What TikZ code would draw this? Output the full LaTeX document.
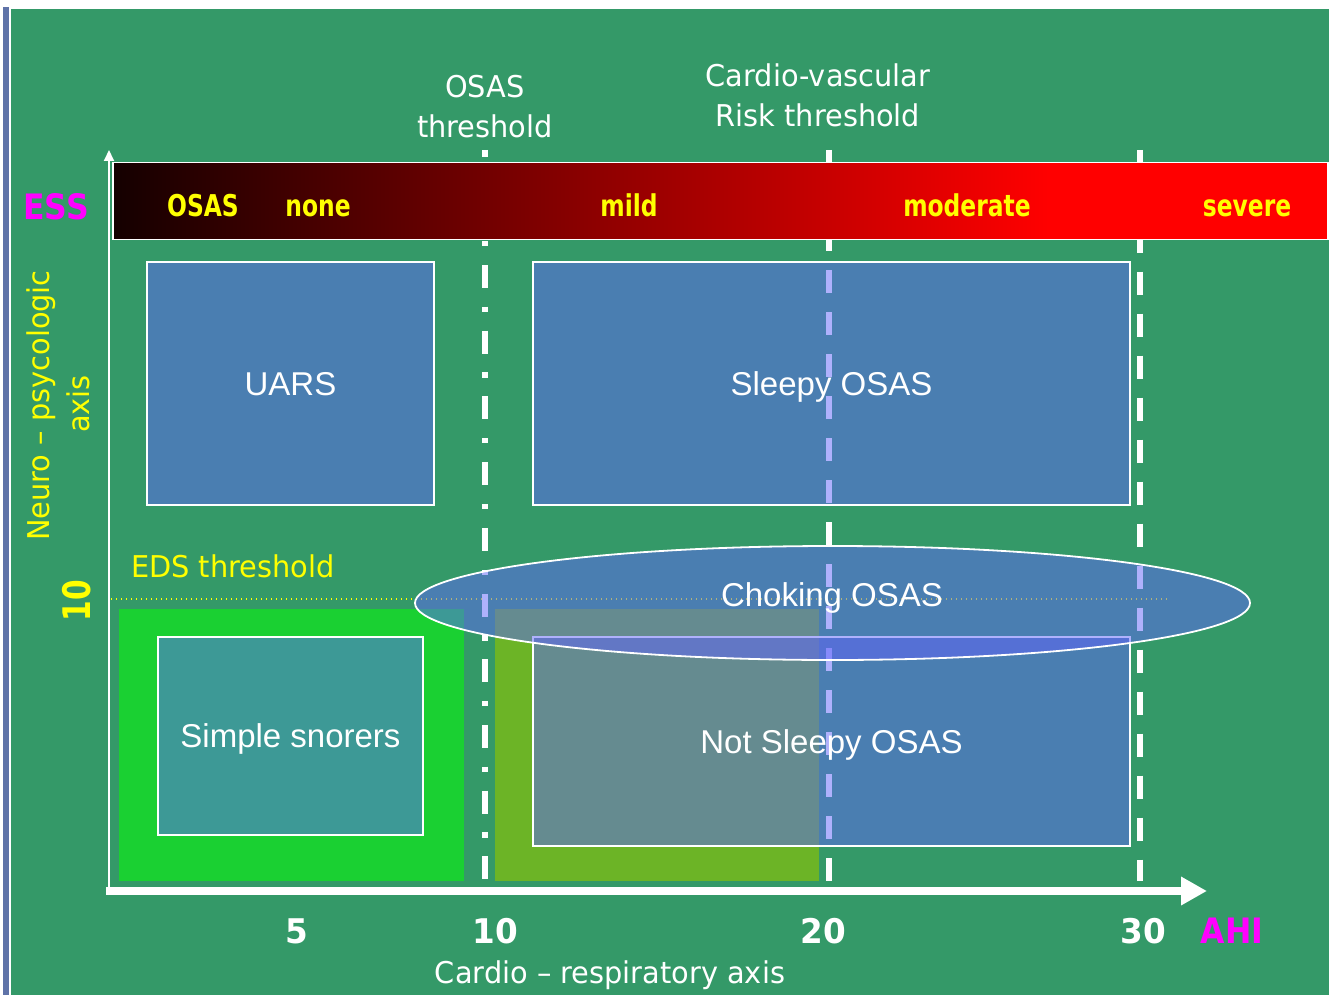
\documentclass[tikz,border=0pt]{standalone}
\usepackage{fontspec}
\setmainfont{Liberation Sans}
\newfontfamily\thinfont[FakeStretch=0.96]{DejaVu Sans}
\newfontfamily\bandfont[FakeStretch=0.78]{DejaVu Sans}
\newfontfamily\magfont[FakeStretch=0.9]{DejaVu Sans}
\usetikzlibrary{arrows.meta,shapes.geometric}
\definecolor{panel}{RGB}{52,153,104}
\definecolor{stripe}{RGB}{95,115,168}
\definecolor{zoneblue}{RGB}{96,100,250}
\definecolor{snoregreen}{RGB}{26,208,50}
\definecolor{mildgreen}{RGB}{108,180,38}
\definecolor{hotpink}{RGB}{255,0,255}
\definecolor{signyellow}{RGB}{255,255,0}
\pgfdeclarehorizontalshading{severity}{100bp}{rgb(0bp)=(0.08,0,0); rgb(25bp)=(0.08,0,0); rgb(63.5bp)=(1,0,0); rgb(100bp)=(1,0,0)}
\newcommand{\snoreArea}{(119,609) rectangle (464,881)}
\newcommand{\mildArea}{(495,609) rectangle (819,881)}
\tikzset{
  zone/.style={draw=white, line width=1.8pt, fill=zoneblue, fill opacity=0.5, text opacity=1,
    text=white, inner sep=0pt, text depth=0pt, font=\fontsize{33}{39}\selectfont},
  thrline/.style={white, line width=6pt},
  sevlbl/.style={text=signyellow, anchor=base, inner sep=0pt, font=\bandfont\bfseries\fontsize{30}{36}\selectfont},
  lbl/.style={text=white, anchor=base, inner sep=0pt, font=\thinfont\fontsize{30}{36}\selectfont},
  ticklbl/.style={text=white, anchor=base, inner sep=0pt, font=\thinfont\bfseries\fontsize{34}{40}\selectfont},
  axislbl/.style={text=hotpink, anchor=base, inner sep=0pt, font=\magfont\bfseries\fontsize{35}{40}\selectfont}
}
\begin{document}
\begin{tikzpicture}[x=1pt,y=-1pt]
  \useasboundingbox (0,0) rectangle (1333,995);
  \fill[white] (0,0) rectangle (1333,995);
  \fill[stripe] (3,7) rectangle (9,995);
  \fill[panel] (11,9) rectangle (1329,995);
  \coordinate (eds0) at (111,599); \coordinate (eds1) at (1170,599);
  \draw[signyellow, line width=1.3pt, dash pattern=on 1.3pt off 3.7pt] (eds0) -- (eds1);
  \coordinate (osastop) at (485,150); \coordinate (osasbot) at (485,880);
  \draw[thrline, dash pattern=on 23pt off 18.7pt on 5.3pt off 18.7pt, dash phase=16.4pt] (osastop) -- (osasbot);
  \foreach \x/\p in {829/6,1140/4.5} {
    \coordinate (top\x) at (\x,150); \coordinate (bot\x) at (\x,881);
    \draw[thrline, dash pattern=on 23pt off 19pt, dash phase=\p pt] (top\x) -- (bot\x);
  }
  \node[draw=white, line width=1.8pt, shade, shading=severity, minimum width=1215pt, minimum height=77pt, inner sep=0pt] (band) at (720.5,201) {};
  \coordinate (xstart) at (106,891); \coordinate (xend) at (1207,891);
  \coordinate (ystart) at (109,895); \coordinate (yend) at (109,150);
  \draw[white, line width=2pt, -{Triangle[length=11pt,width=10pt]}] (ystart) -- (yend);
  \draw[white, line width=8pt, -{Triangle[length=26pt,width=27pt]}] (xstart) -- (xend);
  \fill[snoregreen] \snoreArea; \fill[mildgreen] \mildArea;
  \node[zone, minimum width=287pt, minimum height=243pt] (uars) at (290.5,383.5) {UARS};
  \node[zone, minimum width=597pt, minimum height=243pt] (sleepy) at (831.5,383.5) {Sleepy OSAS};
  \node[zone, minimum width=265pt, minimum height=198pt] (snorers) at (290.5,736) {Simple snorers};
  \node[zone, minimum width=597pt, minimum height=209pt] (notsleepy) at (831.5,741.5) {Not Sleepy OSAS};
  \node[zone, ellipse, minimum width=835pt, minimum height=114pt] (choking) at (832.5,603) {};
  \node[zone, draw=none, fill=none, anchor=base] (chokinglbl) at (832,606) {Choking OSAS};
  \foreach \x/\t in {203/OSAS,318/none,629/mild,967/moderate,1247/severe}
    \node[sevlbl] (sev-\t) at (\x,217) {\t};
  \node[axislbl] (ess) at (56,219) {ESS};
  \node[axislbl] (ahi) at (1232,943) {AHI};
  \foreach \x/\n in {297/5,495/10,823/20,1143/30}
    \node[ticklbl] (tick\n) at (\x,943) {\n};
  \node[lbl] (osasthr1) at (485,98) {OSAS};
  \node[lbl] (osasthr2) at (485,138) {threshold};
  \node[lbl] (cvthr1) at (818,87) {Cardio-vascular};
  \node[lbl] (cvthr2) at (818,127) {Risk threshold};
  \node[lbl] (cardioaxis) at (610,983) {Cardio – respiratory axis};
  \node[lbl, text=signyellow, anchor=base west] (edsthr) at (131,577) {EDS threshold};
  \node[lbl, text=signyellow, rotate=90] (neuro1) at (49.5,405.5) {Neuro – psycologic};
  \node[lbl, text=signyellow, rotate=90] (neuro2) at (89,404) {axis};
  \node[sevlbl, rotate=90, font=\bandfont\bfseries\fontsize{38}{44}\selectfont] (ess10) at (90,601) {10};
\end{tikzpicture}
\end{document}
